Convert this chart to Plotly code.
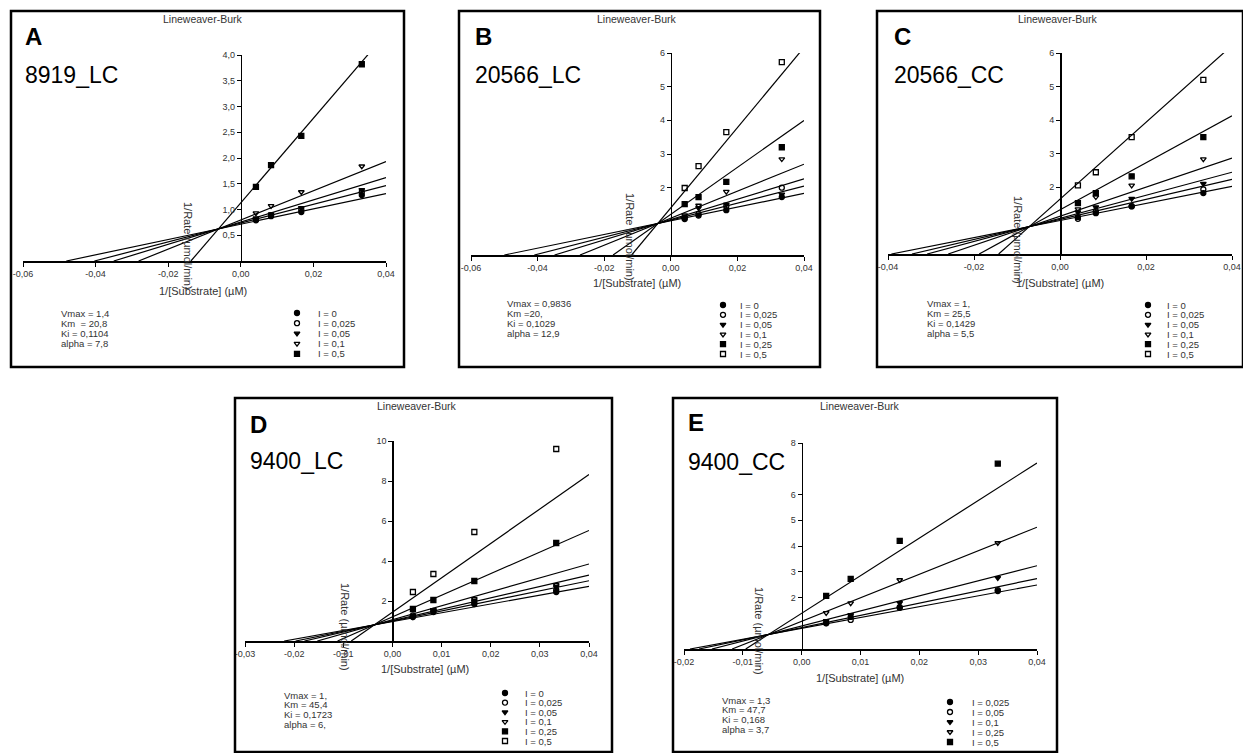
import numpy as np
import plotly.graph_objects as go

W, H = 1243, 753

# ---------------- data ----------------
INV_S = [0.004167, 0.008333, 0.016667, 0.033333]   # 1/[Substrate] (µM^-1)

# Panel A  8919_LC
A_I = [0, 0.025, 0.05, 0.1, 0.5]
A_RATES = [[0.79, 0.87, 0.95, 1.28],
           [0.80, 0.89, 1.00, 1.34],
           [0.83, 0.91, 1.03, 1.38],
           [0.93, 1.07, 1.34, 1.84],
           [1.44, 1.86, 2.43, 3.82]]
A_FIT = dict(vmax=1.4, km=20.8, ki=0.1104, alpha=7.8)
A_TEXT = ["Vmax = 1,4", "Km  = 20,8", "Ki = 0,1104", "alpha = 7,8"]
A_SYM = ["circle", "circle-open", "triangle-down", "triangle-down-open", "square"]

# Panel B  20566_LC
B_I = [0, 0.025, 0.05, 0.1, 0.25, 0.5]
B_RATES = [[1.07, 1.17, 1.33, 1.72],
           [1.10, 1.22, 1.45, 2.00],
           [1.12, 1.40, 1.50, 1.80],
           [1.18, 1.47, 1.88, 2.85],
           [1.51, 1.72, 2.17, 3.20],
           [1.99, 2.64, 3.65, 5.73]]
B_FIT = dict(vmax=0.9836, km=20.0, ki=0.1029, alpha=12.9)
B_TEXT = ["Vmax = 0,9836", "Km =20,", "Ki = 0,1029", "alpha = 12,9"]
B_SYM = ["circle", "circle-open", "triangle-down", "triangle-down-open", "square", "square-open"]

# Panel C  20566_CC
C_I = [0, 0.025, 0.05, 0.1, 0.25, 0.5]
C_RATES = [[1.10, 1.22, 1.42, 1.82],
           [1.05, 1.28, 1.43, 1.93],
           [1.25, 1.40, 1.65, 2.10],
           [1.34, 1.70, 2.05, 2.83],
           [1.52, 1.82, 2.32, 3.49],
           [2.05, 2.44, 3.49, 5.20]]
C_FIT = dict(vmax=1.0, km=25.5, ki=0.1429, alpha=5.5)
C_TEXT = ["Vmax = 1,", "Km = 25,5", "Ki = 0,1429", "alpha = 5,5"]
C_SYM = B_SYM

# Panel D  9400_LC
D_I = [0, 0.025, 0.05, 0.1, 0.25, 0.5]
D_RATES = [[1.20, 1.45, 1.85, 2.45],
           [1.28, 1.50, 1.95, 2.55],
           [1.25, 1.55, 2.00, 2.70],
           [1.20, 1.55, 2.10, 2.80],
           [1.60, 2.05, 3.00, 4.90],
           [2.45, 3.35, 5.45, 9.60]]
D_FIT = dict(vmax=1.03, km=45.4, ki=0.1723, alpha=6.0)
D_TEXT = ["Vmax = 1,", "Km = 45,4", "Ki = 0,1723", "alpha = 6,"]
D_SYM = B_SYM

# Panel E  9400_CC
E_I = [0.025, 0.05, 0.1, 0.25, 0.5]
E_RATES = [[1.00, 1.25, 1.60, 2.25],
           [1.01, 1.13, 1.63, 2.29],
           [1.09, 1.32, 1.79, 2.76],
           [1.40, 1.78, 2.68, 4.12],
           [2.06, 2.72, 4.20, 7.20]]
E_FIT = dict(vmax=1.3, km=47.7, ki=0.168, alpha=3.7)
E_TEXT = ["Vmax = 1,3", "Km = 47,7", "Ki = 0,168", "alpha = 3,7"]
E_SYM = ["circle", "circle-open", "triangle-down", "triangle-down-open", "square"]

# ---------------- layout (pixel positions) ----------------
PANELS = [
    dict(letter="A", name="8919_LC", I=A_I, rates=A_RATES, fit=A_FIT, text=A_TEXT, sym=A_SYM,
         xr=(-0.06, 0.04), xdt=0.02, yr=(0, 4.0), yticks=[0.5, 1, 1.5, 2, 2.5, 3, 3.5, 4.0], yfmt="{:.1f}",
         box=(11, 11, 404, 367), plot=(23, 386, 261, 55),
         title=(203, 19), lab=(23, 37), nm=(23, 75), xl=(203, 291), yl=(188, 246),
         txt=(59, 313, 10), leg=(297, 316, 313, 10.2)),
    dict(letter="B", name="20566_LC", I=B_I, rates=B_RATES, fit=B_FIT, text=B_TEXT, sym=B_SYM,
         xr=(-0.06, 0.04), xdt=0.02, yr=(0, 6), yticks=[2, 3, 4, 5, 6], yfmt="{:.0f}",
         box=(459, 11, 820, 367), plot=(471, 804, 255, 53),
         title=(637, 19), lab=(473, 37), nm=(473, 75), xl=(637, 283), yl=(630, 237),
         txt=(505, 303, 10.3), leg=(723, 738, 305, 9.8)),
    dict(letter="C", name="20566_CC", I=C_I, rates=C_RATES, fit=C_FIT, text=C_TEXT, sym=C_SYM,
         xr=(-0.04, 0.04), xdt=0.02, yr=(0, 6), yticks=[2, 3, 4, 5, 6], yfmt="{:.0f}",
         box=(877, 11, 1243, 367), plot=(888, 1232, 254, 53),
         title=(1058, 19), lab=(892, 37), nm=(892, 75), xl=(1060, 283), yl=(1018, 240),
         txt=(925, 303, 10.3), leg=(1148, 1165, 305, 9.8)),
    dict(letter="D", name="9400_LC", I=D_I, rates=D_RATES, fit=D_FIT, text=D_TEXT, sym=D_SYM,
         xr=(-0.03, 0.04), xdt=0.01, yr=(0, 10), yticks=[2, 4, 6, 8, 10], yfmt="{:.0f}",
         box=(235, 398, 612, 752), plot=(245, 589, 641, 441),
         title=(417, 406), lab=(248, 424), nm=(248, 461), xl=(425, 669), yl=(345, 627),
         txt=(282, 695, 9.7), leg=(505, 523, 693, 9.6)),
    dict(letter="E", name="9400_CC", I=E_I, rates=E_RATES, fit=E_FIT, text=E_TEXT, sym=E_SYM,
         xr=(-0.02, 0.04), xdt=0.01, yr=(0, 8), yticks=[2, 3, 4, 5, 6, 8], yfmt="{:.0f}",
         box=(673, 398, 1057, 752), plot=(684, 1037, 649, 443),
         title=(860, 406), lab=(686, 423), nm=(686, 462), xl=(860, 678), yl=(759, 631),
         txt=(720, 700, 9.7), leg=(950, 970, 702, 10.0)),
]

FONT = "Liberation Sans, Arial, sans-serif"
GREY = "#333333"

def px2x(px):
    return px / W

def px2y(py):
    return 1 - py / H

def fmt(v, f):
    return f.format(v).replace(".", ",")

fig = go.Figure()
shapes, annots = [], []
layout_axes = {}

def ann(text, pos, size, xanchor="center", yanchor="middle", bold=False, angle=0, color="black"):
    annots.append(dict(text=f"<b>{text}</b>" if bold else text, xref="paper", yref="paper",
                       x=px2x(pos[0]), y=px2y(pos[1]), xanchor=xanchor, yanchor=yanchor,
                       showarrow=False, textangle=angle,
                       font=dict(family=FONT, size=size, color=color)))

for k, p in enumerate(PANELS):
    n = k + 1
    xa, ya = ("x" if n == 1 else f"x{n}"), ("y" if n == 1 else f"y{n}")
    xkey, ykey = ("xaxis" if n == 1 else f"xaxis{n}"), ("yaxis" if n == 1 else f"yaxis{n}")
    x0p, x1p, ybp, ytp = p["plot"]
    xdom = [px2x(x0p), px2x(x1p)]
    ydom = [px2y(ybp), px2y(ytp)]
    xmin, xmax = p["xr"]
    yaxis_pos = xdom[0] + (0 - xmin) / (xmax - xmin) * (xdom[1] - xdom[0])

    nt = int(round((xmax - xmin) / p["xdt"]))
    xt = [round(xmin + i * p["xdt"], 4) for i in range(nt + 1)]
    layout_axes[xkey] = dict(domain=xdom, range=[xmin, xmax], anchor=ya, automargin=False,
                             showgrid=False, zeroline=False, showline=True,
                             linecolor="black", linewidth=1.5,
                             ticks="outside", ticklen=4, tickwidth=1, tickcolor="black",
                             tickvals=xt, ticktext=[fmt(v, "{:.2f}") for v in xt],
                             tickfont=dict(family=FONT, size=9, color=GREY))
    layout_axes[ykey] = dict(domain=ydom, range=list(p["yr"]), anchor="free", position=yaxis_pos,
                             automargin=False,
                             showgrid=False, zeroline=False, showline=True,
                             linecolor="black", linewidth=1.5,
                             ticks="outside", ticklen=4, tickwidth=1, tickcolor="black",
                             tickvals=p["yticks"], ticktext=[fmt(v, p["yfmt"]) for v in p["yticks"]],
                             tickfont=dict(family=FONT, size=9, color=GREY))

    f = p["fit"]
    for i_conc, rates, sym in zip(p["I"], p["rates"], p["sym"]):
        slope = f["km"] / f["vmax"] * (1 + i_conc / f["ki"])
        icpt = 1 / f["vmax"] * (1 + i_conc / (f["alpha"] * f["ki"]))
        xs = [-icpt / slope, xmax]
        ys = [icpt + slope * xx for xx in xs]
        fig.add_trace(go.Scatter(x=xs, y=ys, mode="lines", xaxis=xa, yaxis=ya,
                                 line=dict(color="black", width=1.2), showlegend=False,
                                 hoverinfo="skip"))
        fig.add_trace(go.Scatter(x=INV_S, y=rates, mode="markers", xaxis=xa, yaxis=ya,
                                 marker=dict(symbol=sym, size=5, color="black",
                                             line=dict(color="black", width=1.3)),
                                 showlegend=False, cliponaxis=False))

    # box
    l, t, r, b = p["box"]
    shapes.append(dict(type="rect", xref="paper", yref="paper",
                       x0=px2x(l), x1=px2x(r), y0=px2y(b), y1=px2y(t),
                       line=dict(color="black", width=2.5), layer="above"))

    ann("Lineweaver-Burk", p["title"], 10.5, color=GREY)
    ann(p["letter"], p["lab"], 24, xanchor="left", bold=True)
    ann(p["name"], p["nm"], 23, xanchor="left")
    ann("1/[Substrate] (µM)", p["xl"], 11, color=GREY)
    ann("1/Rate (µmol/min)", p["yl"], 11, angle=90, color=GREY)
    tx, ty, tdy = p["txt"]
    for j, line in enumerate(p["text"]):
        ann(line, (tx, ty + j * tdy), 9.5, xanchor="left", color=GREY)

    # legend swatches + labels
    mx, lx, ry0, dy = p["leg"]
    for j, (i_conc, sym) in enumerate(zip(p["I"], p["sym"])):
        ry = ry0 + j * dy
        fig.add_trace(go.Scatter(x=[mx], y=[ry], mode="markers", xaxis="x6", yaxis="y6",
                                 marker=dict(symbol=sym, size=5, color="black",
                                             line=dict(color="black", width=1.3)),
                                 showlegend=False, hoverinfo="skip"))
        lbl = "I = " + fmt(i_conc, "{}") if i_conc != 0 else "I = 0"
        ann(lbl, (lx, ry), 9.5, xanchor="left", color=GREY)

# overlay pixel axis for legend swatches
layout_axes["xaxis6"] = dict(domain=[0, 1], range=[0, W], visible=False, anchor="y6", automargin=False)
layout_axes["yaxis6"] = dict(domain=[0, 1], range=[H, 0], visible=False, anchor="x6", automargin=False)

fig.update_layout(template="none", width=W, height=H, autosize=False,
                  margin=dict(l=0, r=0, t=0, b=0, autoexpand=False),
                  paper_bgcolor="white", plot_bgcolor="rgba(0,0,0,0)",
                  showlegend=False, hovermode=False, shapes=shapes, annotations=annots,
                  font=dict(family=FONT), **layout_axes)

fig.write_html("out.html", config={"displayModeBar": False, "staticPlot": True},
               post_script="document.body.style.margin='0';document.body.style.padding='0';"
                           "document.body.style.overflow='hidden';")
